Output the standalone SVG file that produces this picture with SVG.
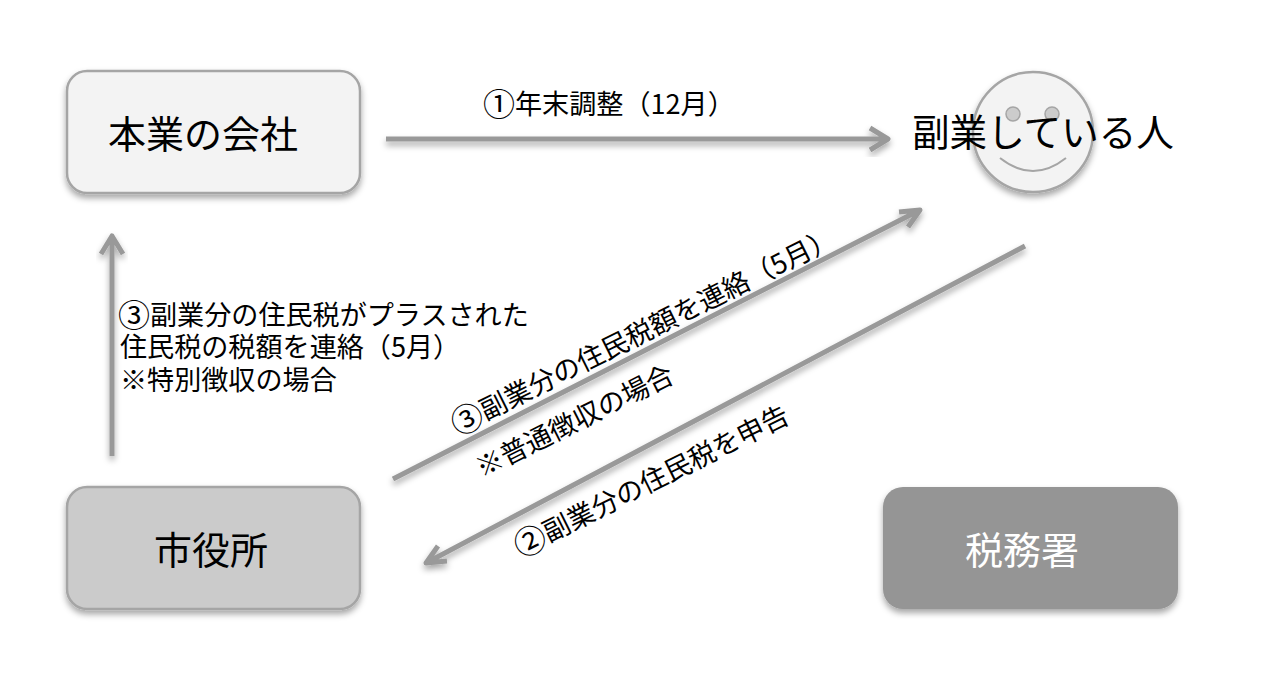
<svg xmlns="http://www.w3.org/2000/svg" width="1270" height="680" viewBox="0 0 1270 680">
<style>
text{font-family:"Noto Sans CJK JP","Noto Sans",sans-serif;fill:#000}
.big{font-size:38px}
.lab{font-size:27.100px}
.num{font-size:32px}
.node{stroke:#a5a5a5;stroke-width:2.5;filter:url(#sh)}
.conn{fill:none;stroke:#999;stroke-width:5;stroke-linejoin:round;filter:url(#sh)}
</style>
<defs>
<filter id="sh" x="-20%" y="-20%" width="140%" height="150%">
<feDropShadow dx="0" dy="4" stdDeviation="3" flood-color="#000" flood-opacity="0.35"/>
</filter>
</defs>
<g id="connectors">
<path class="conn" d="M386 139H888M870 128L888 139L870 150"/>
<path class="conn" d="M112 456V236M101 254L112 236L123 254"/>
<path class="conn" d="M393 479L920 210M899 212L920 210L908 227"/>
<path class="conn" d="M1025 246L426 563M447 561L426 563L438 546"/>
</g>
<g id="node-honsha">
<rect class="node" x="67" y="71" width="293" height="122" rx="20" fill="#f3f3f3"/>
<text class="big" x="108" y="148">本業の会社</text>
</g>
<g id="node-person">
<circle class="node" cx="1033" cy="132" r="60" fill="#f3f3f3"/>
<circle cx="1013" cy="114" r="7" fill="#ccc" stroke="#a5a5a5" stroke-width="1.5"/>
<circle cx="1052" cy="114" r="7" fill="#ccc" stroke="#a5a5a5" stroke-width="1.5"/>
<path d="M1000 158Q1033 184 1066 158" fill="none" stroke="#a5a5a5" stroke-width="2"/>
<text class="big" style="font-size:37.6px" x="912" y="146">副業している人</text>
</g>
<g id="node-shiyakusho">
<rect class="node" x="67" y="487" width="293" height="122" rx="20" fill="#cbcbcb"/>
<text class="big" x="154" y="564">市役所</text>
</g>
<g id="node-zeimusho">
<rect x="883" y="487" width="295" height="122" rx="20" fill="#959595" filter="url(#sh)"/>
<text class="big" x="965" y="564" style="fill:#fff">税務署</text>
</g>
<g id="labels">
<text class="lab" x="483" y="114"><tspan class="num" dy="2">①</tspan><tspan dy="-2">年末調整（12月）</tspan></text>
<text class="lab" x="118" y="325"><tspan class="num" dy="2">③</tspan><tspan dy="-2">副業分の住民税がプラスされた</tspan></text>
<text class="lab" x="120" y="357">住民税の税額を連絡（5月）</text>
<text class="lab" x="120" y="390">※特別徴収の場合</text>
<text class="lab" transform="translate(457 435) rotate(-26.5)"><tspan class="num" dy="2">③</tspan><tspan dy="-2">副業分の住民税額を連絡（5月）</tspan></text>
<text class="lab" transform="translate(482 478) rotate(-26.5)">※普通徴収の場合</text>
<text class="lab" transform="translate(520 557) rotate(-26.5)"><tspan class="num" dy="2">②</tspan><tspan dy="-2">副業分の住民税を申告</tspan></text>
</g>
</svg>
